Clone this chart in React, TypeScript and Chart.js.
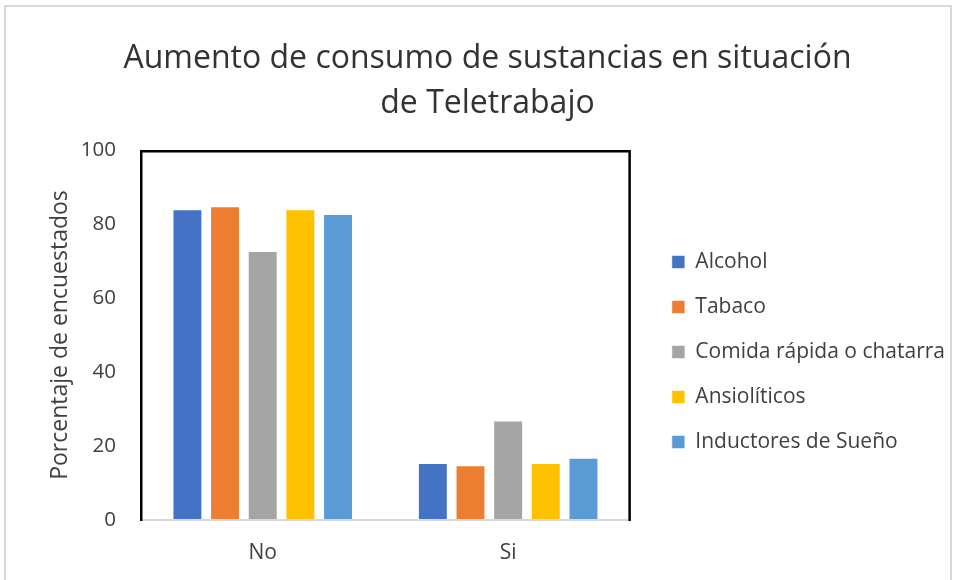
import { useEffect, useRef } from 'react';
import { Chart, registerables } from 'chart.js';

Chart.register(...registerables);

const categories = ['No', 'Si'];
const seriesNames = ['Alcohol', 'Tabaco', 'Comida rápida o chatarra', 'Ansiolíticos', 'Inductores de Sueño'];
const alcohol = [84.0, 15.4];
const tabaco = [84.8, 14.8];
const comida = [72.7, 26.9];
const ansioliticos = [84.0, 15.4];
const inductores = [82.7, 16.8];
const seriesValues = [alcohol, tabaco, comida, ansioliticos, inductores];
const seriesColors = ['#4472C4', '#ED7D31', '#A5A5A5', '#FFC000', '#5B9BD5'];
const yMin = 0;
const yMax = 100;
const yStep = 20;
const titleLines = ['Aumento de consumo de sustancias en situación', 'de Teletrabajo'];
const yAxisTitle = 'Porcentaje de encuestados';

const FONT = '"Open Sans", "Noto Sans", sans-serif';
const TEXT = '#404040';

const framePlugin = {
  id: 'frame',
  afterDatasetsDraw(chart: any) {
    const { ctx, chartArea: a } = chart;
    ctx.save();
    ctx.lineWidth = 2;
    ctx.strokeStyle = '#d9d9d9';
    ctx.beginPath();
    ctx.moveTo(a.left, a.bottom);
    ctx.lineTo(a.right, a.bottom);
    ctx.stroke();
    ctx.lineWidth = 2.5;
    ctx.strokeStyle = '#000000';
    ctx.beginPath();
    ctx.moveTo(a.left + 1.25, a.bottom + 1);
    ctx.lineTo(a.left + 1.25, a.top + 1.25);
    ctx.lineTo(a.right - 1.25, a.top + 1.25);
    ctx.lineTo(a.right - 1.25, a.bottom + 1);
    ctx.stroke();
    ctx.restore();
  },
};

export default function App() {
  const ref = useRef<HTMLCanvasElement | null>(null);

  useEffect(() => {
    document.body.style.margin = '0';
    document.body.style.overflow = 'hidden';
    const canvas = ref.current;
    if (!canvas) return;
    const chart = new Chart(canvas, {
      type: 'bar',
      data: {
        labels: categories,
        datasets: seriesNames.map((name, i) => ({
          label: name,
          data: seriesValues[i],
          backgroundColor: seriesColors[i],
          borderColor: 'rgba(255,255,255,0.55)',
          borderWidth: 1,
          categoryPercentage: 0.767,
          barPercentage: 0.795,
        })),
      },
      options: {
        animation: false,
        responsive: false,
        maintainAspectRatio: false,
        layout: { padding: { left: 20, right: 0, top: 36, bottom: 0 } },
        plugins: {
          title: {
            display: true,
            text: titleLines,
            color: '#333333',
            font: { family: FONT, size: 32, weight: 'normal', lineHeight: 45 / 32 },
            padding: { top: 0, bottom: 24 },
          },
          legend: {
            display: true,
            position: 'right',
            fullSize: false,
            maxWidth: 400,
            title: {
              display: true,
              text: ' ',
              font: { family: FONT, size: 12, lineHeight: 1 },
              padding: { top: 11, bottom: 11 },
            },
            labels: {
              boxWidth: 13,
              boxHeight: 13,
              padding: 24,
              color: TEXT,
              font: { family: FONT, size: 21 },
            },
          },
          tooltip: { enabled: false },
        },
        scales: {
          x: {
            grid: { display: false },
            border: { display: false },
            ticks: { color: TEXT, font: { family: FONT, size: 21 }, padding: 12 },
            afterFit: (s: any) => {
              s.height = 60;
            },
          },
          y: {
            min: yMin,
            max: yMax,
            ticks: { stepSize: yStep, color: TEXT, font: { family: FONT, size: 20.5 }, padding: 24 },
            grid: { display: false, drawTicks: false },
            border: { display: false },
            title: {
              display: true,
              text: yAxisTitle,
              color: TEXT,
              font: { family: FONT, size: 23 },
              padding: { top: 27, bottom: 0 },
            },
            afterFit: (s: any) => {
              s.width = 120;
            },
          },
          y2: {
            type: 'linear',
            position: 'right',
            display: true,
            grid: { display: false, drawTicks: false },
            border: { display: false },
            ticks: { display: false },
            afterFit: (s: any) => {
              s.width = 17;
            },
          },
        },
      } as any,
      plugins: [framePlugin],
    });
    return () => chart.destroy();
  }, []);

  return (
    <div style={{ position: 'relative', width: 955, height: 580, overflow: 'hidden', background: '#ffffff' }}>
      <canvas ref={ref} width={955} height={580} style={{ position: 'absolute', left: 0, top: 0, width: 955, height: 580 }} />
      <div
        style={{
          position: 'absolute',
          left: 4,
          top: 5,
          width: 948,
          height: 700,
          border: '2px solid #d9d9d9',
          boxSizing: 'border-box',
          pointerEvents: 'none',
        }}
      />
    </div>
  );
}
